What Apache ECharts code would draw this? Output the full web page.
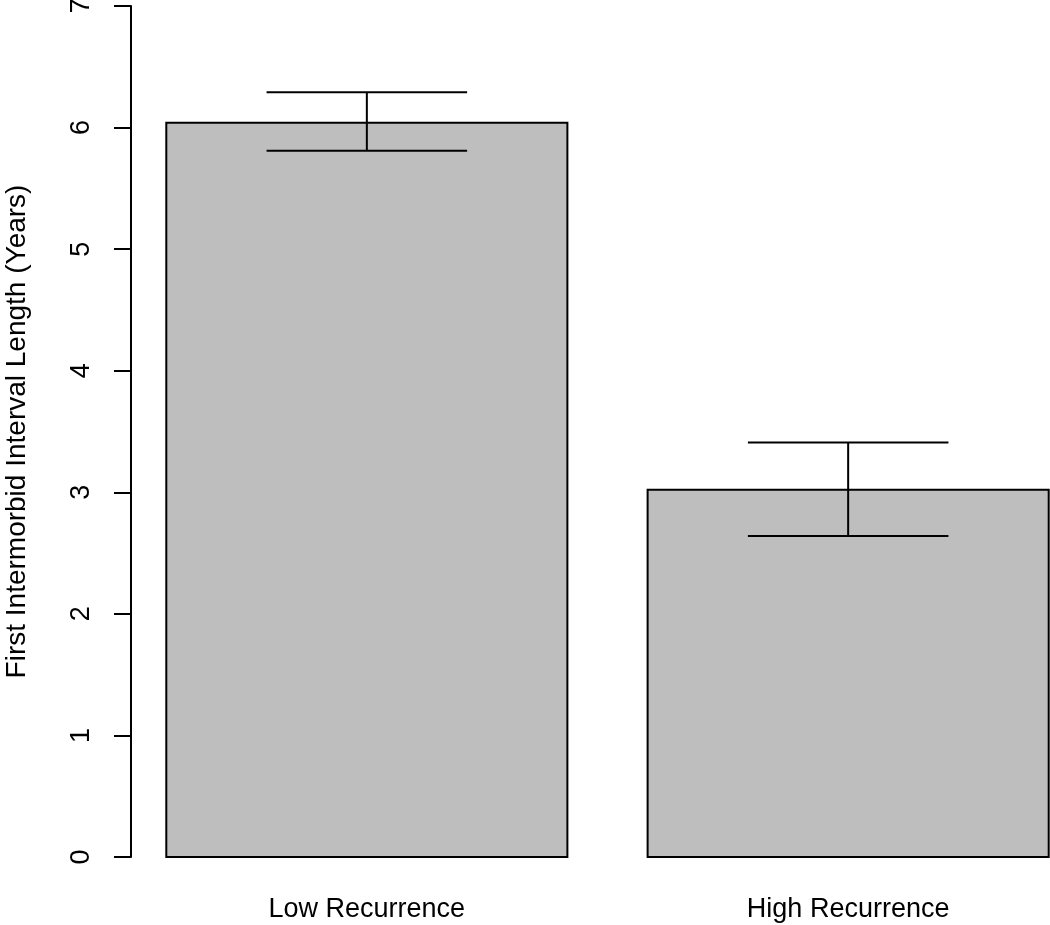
<!DOCTYPE html>
<html>
<head>
<meta charset="utf-8">
<script src="https://cdn.jsdelivr.net/npm/echarts@6/dist/echarts.min.js"></script>
<style>html,body{margin:0;padding:0;background:#fff;}#c{width:1050px;height:925px;}</style>
</head>
<body>
<div id="c"></div>
<script>
const categories = ['Low Recurrence', 'High Recurrence'];
const means = [6.04, 3.02];
const errLow = [5.81, 2.64];
const errHigh = [6.29, 3.41];
const yTicks = [0, 1, 2, 3, 4, 5, 6, 7];
const yTitle = 'First Intermorbid Interval Length (Years)';

const FONT = '"Liberation Sans", Arial, sans-serif';
const barWidth = 1, barSpace = 0.2, capHalf = 0.25;

const chart = echarts.init(document.getElementById('c'), null, {renderer: 'canvas'});
const data = categories.map((c, i) => [i, means[i], errLow[i], errHigh[i]]);

chart.setOption({
  animation: false,
  backgroundColor: '#ffffff',
  grid: {left: 131, right: -34, top: 6, bottom: 68, containLabel: false, outerBoundsMode: 'none'},
  xAxis: {type: 'value', min: 0.112, max: 2.488, show: false},
  yAxis: {
    type: 'value', min: yTicks[0], max: yTicks[yTicks.length - 1], interval: 1,
    name: yTitle, nameLocation: 'middle', nameGap: 100, nameRotate: 90,
    nameTextStyle: {fontFamily: FONT, fontSize: 28, color: '#000'},
    axisLine: {show: true, lineStyle: {color: '#000', width: 2}},
    axisTick: {show: true, length: 17, lineStyle: {color: '#000', width: 2}},
    axisLabel: {rotate: 90, margin: 36, fontFamily: FONT, fontSize: 27, color: '#000'},
    splitLine: {show: false}
  },
  series: [{
    type: 'custom',
    data: data,
    encode: {x: 0, y: 1},
    renderItem: function (params, api) {
      const i = api.value(0);
      const x0 = barSpace + i * (barWidth + barSpace);
      const x1 = x0 + barWidth;
      const xc = (x0 + x1) / 2;
      const tl = api.coord([x0, api.value(1)]);
      const br = api.coord([x1, 0]);
      const lo = api.coord([xc, api.value(2)]);
      const hi = api.coord([xc, api.value(3)]);
      const cl = api.coord([xc - capHalf, 0])[0];
      const cr = api.coord([xc + capHalf, 0])[0];
      const ls = {stroke: '#000', lineWidth: 2};
      return {
        type: 'group',
        children: [
          {type: 'rect', shape: {x: tl[0], y: tl[1], width: br[0] - tl[0], height: br[1] - tl[1]},
           style: {fill: '#bebebe', stroke: '#000', lineWidth: 2}},
          {type: 'line', shape: {x1: lo[0], y1: lo[1], x2: hi[0], y2: hi[1]}, style: ls},
          {type: 'line', shape: {x1: cl, y1: lo[1], x2: cr, y2: lo[1]}, style: ls},
          {type: 'line', shape: {x1: cl, y1: hi[1], x2: cr, y2: hi[1]}, style: ls},
          {type: 'text', style: {text: categories[i], x: lo[0], y: br[1] + 53,
            align: 'center', verticalAlign: 'middle', fill: '#000', fontSize: 27, fontFamily: FONT}}
        ]
      };
    }
  }]
});
</script>
</body>
</html>
